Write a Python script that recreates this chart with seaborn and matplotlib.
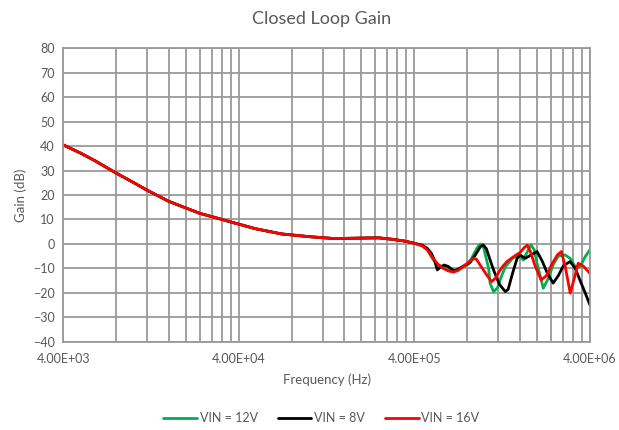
import numpy as np
import pandas as pd
import matplotlib
matplotlib.use("Agg")
import matplotlib.pyplot as plt
import matplotlib.ticker as mticker
import seaborn as sns

# === Data ===
# shared low-frequency part (all three curves overlap here)
freq_low = [4000, 5000, 6000, 8000, 10000, 12000, 16000, 20000, 24000, 30000, 36000,
            50000, 70000, 100000, 140000, 200000, 250000, 300000, 350000, 400000]
gain_low = [40.5, 37.2, 34.2, 29.0, 25.2, 22.0, 17.4, 14.7, 12.5, 10.6, 9.0,
            6.2, 4.1, 3.0, 2.2, 2.4, 2.5, 1.9, 1.2, 0.3]

# high-frequency part, per input voltage
freq_12v = [4.44e5, 4.74e5, 5.13e5, 5.48e5, 5.85e5, 6.24e5, 6.67e5, 7.12e5, 7.60e5,
            8.12e5, 8.67e5, 9.13e5, 9.50e5, 9.88e5, 1.01e6, 1.06e6, 1.08e6, 1.13e6,
            1.19e6, 1.25e6, 1.32e6, 1.45e6, 1.56e6, 1.67e6, 1.78e6, 1.85e6, 1.93e6,
            2.00e6, 2.17e6, 2.32e6, 2.47e6, 2.64e6, 2.89e6, 3.09e6, 3.30e6, 3.52e6,
            3.76e6, 4.00e6]
gain_12v = [-0.8, -2.4, -6.5, -8.5, -9.5, -10.3, -10.8, -10.3, -9.3,
            -8.3, -4.5, -1.5, 0.0, -0.8, -3.8, -10.0, -16.0, -19.5,
            -18.0, -13.5, -9.3, -5.9, -4.5, -6.5, -2.5, -0.4, -2.5,
            -7.9, -18.1, -14.0, -8.5, -5.0, -4.5, -5.9, -9.3, -9.3,
            -5.2, -2.4]

freq_8v = [4.44e5, 4.74e5, 5.00e5, 5.20e5, 5.41e5, 5.62e5, 5.92e5, 6.24e5, 6.58e5,
           6.85e5, 7.31e5, 7.80e5, 8.33e5, 8.90e5, 9.50e5, 9.88e5, 1.03e6, 1.08e6,
           1.13e6, 1.22e6, 1.32e6, 1.37e6, 1.45e6, 1.54e6, 1.60e6, 1.71e6, 1.85e6,
           2.00e6, 2.14e6, 2.29e6, 2.47e6, 2.64e6, 2.82e6, 2.97e6, 3.09e6, 3.30e6,
           3.52e6, 3.76e6, 4.00e6]
gain_8v = [-0.5, -1.8, -3.8, -6.5, -10.6, -9.5, -8.6, -9.2, -10.5,
           -10.9, -9.8, -8.6, -7.5, -4.5, -1.2, -0.4, -2.0, -6.5,
           -10.6, -16.5, -19.5, -18.5, -12.0, -5.9, -4.5, -5.9, -4.5,
           -3.1, -7.0, -12.0, -16.0, -13.0, -9.0, -7.9, -7.2, -10.0,
           -15.0, -20.0, -24.9]

freq_16v = [4.44e5, 4.74e5, 5.13e5, 5.48e5, 5.85e5, 6.24e5, 6.67e5, 7.12e5, 7.60e5,
            8.12e5, 8.67e5, 9.02e5, 9.62e5, 1.03e6, 1.10e6, 1.16e6, 1.20e6, 1.28e6,
            1.35e6, 1.45e6, 1.52e6, 1.60e6, 1.69e6, 1.76e6, 1.83e6, 1.95e6, 2.11e6,
            2.26e6, 2.44e6, 2.61e6, 2.75e6, 2.89e6, 3.09e6, 3.26e6, 3.43e6, 3.66e6,
            4.00e6]
gain_16v = [-0.8, -2.4, -6.0, -8.5, -10.0, -11.0, -11.5, -10.8, -9.3,
            -7.5, -5.9, -6.2, -9.3, -12.5, -15.4, -14.0, -12.0, -9.0,
            -7.2, -5.5, -4.5, -3.5, -1.5, -0.5, -3.0, -9.0, -14.7,
            -13.0, -8.0, -4.5, -3.1, -9.0, -20.1, -14.0, -7.9, -9.0,
            -12.0]

series_names = ["VIN = 12V", "VIN = 8V", "VIN = 16V"]
series_colors = ["#00B050", "#000000", "#FF0000"]

x_major = [4e3, 4e4, 4e5, 4e6]
x_major_labels = ["4.00E+03", "4.00E+04", "4.00E+05", "4.00E+06"]
y_ticks = list(range(-40, 81, 10))

# === Build long-form table ===
rows = []
for name, f_hi, g_hi in zip(series_names, [freq_12v, freq_8v, freq_16v],
                            [gain_12v, gain_8v, gain_16v]):
    for f, g in zip(freq_low + f_hi, gain_low + g_hi):
        rows.append({"freq": f, "gain": g, "series": name})
df = pd.DataFrame(rows)

# === Plot ===
sns.set_style("white")
plt.rcParams["font.family"] = ["Lato", "DejaVu Sans"]
text_col = "#595959"
grid_col = "#9a9a9a"

fig = plt.figure(figsize=(6.19, 4.30), dpi=100)
ax = fig.add_axes([0.102, 0.205, 0.851, 0.683])

sns.lineplot(data=df, x="freq", y="gain", hue="series", hue_order=series_names,
             palette=series_colors, estimator=None, sort=False, linewidth=2.0, ax=ax)

ax.set_xscale("log")
ax.set_xlim(4e3, 4e6)
ax.set_ylim(-40, 80)

minor = [k * 4 * 10 ** e for e in (3, 4, 5) for k in range(2, 10)]
ax.xaxis.set_major_locator(mticker.FixedLocator(x_major))
ax.xaxis.set_major_formatter(mticker.FixedFormatter(x_major_labels))
ax.xaxis.set_minor_locator(mticker.FixedLocator(minor))
ax.xaxis.set_minor_formatter(mticker.NullFormatter())
ax.set_yticks(y_ticks)

ax.grid(True, which="both", color=grid_col, linewidth=1.3)
ax.set_axisbelow(True)
ax.tick_params(axis="x", which="both", direction="out", length=5, width=1.0,
               color=grid_col, labelsize=9, labelcolor=text_col, pad=3)
ax.tick_params(axis="y", length=0, labelsize=9, labelcolor=text_col, pad=6)
for s in ax.spines.values():
    s.set_color(grid_col)
    s.set_linewidth(1.3)

ax.set_xlabel("Frequency (Hz)", color=text_col, fontsize=9.5, labelpad=6)
ax.set_ylabel("Gain (dB)", color=text_col, fontsize=9.5, labelpad=4)
fig.suptitle("Closed Loop Gain", x=0.52, y=0.975, color=text_col, fontsize=13)

leg = ax.legend(loc="center", bbox_to_anchor=(0.49, -0.26), ncol=3, frameon=False,
                fontsize=9, handlelength=2.7, columnspacing=1.6, handletextpad=0.2)
for t in leg.get_texts():
    t.set_color(text_col)

fig.savefig("out.png", dpi=100)
